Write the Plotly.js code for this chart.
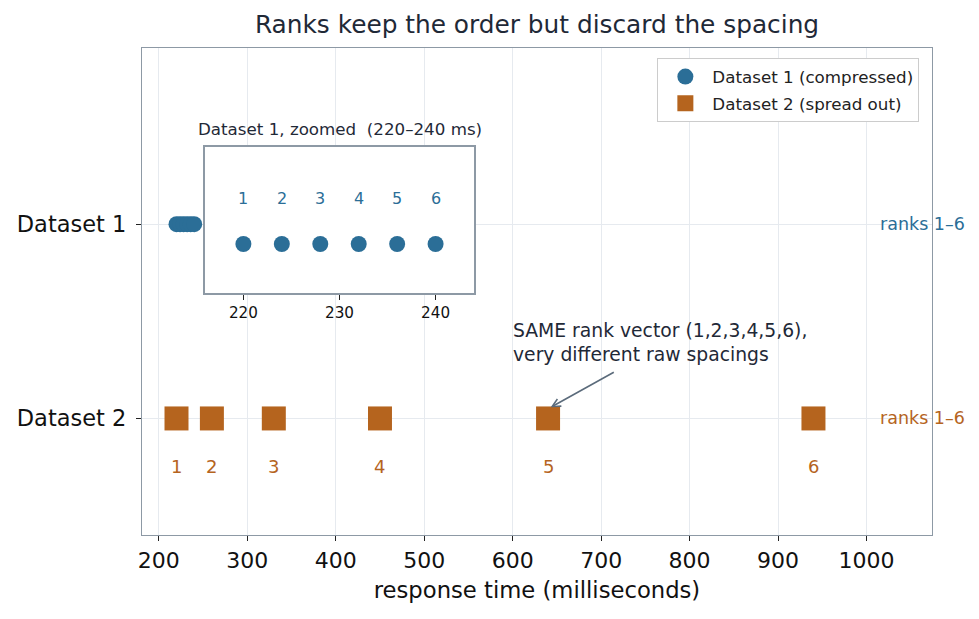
<!DOCTYPE html>
<html><head><meta charset="utf-8">
<script src="https://cdn.plot.ly/plotly-3.0.1.min.js"></script>
<style>html,body{margin:0;padding:0;background:#fff}</style>
</head><body>
<div id="chart" style="width:979px;height:619px"></div>
<script>
// ---- data ----
const dataset1 = [220, 224, 228, 232, 236, 240];   // ms, compressed
const dataset2 = [220, 260, 330, 450, 640, 940];   // ms, spread out
const ranks = [1, 2, 3, 4, 5, 6];
const rowPos = [0, 1];
const rowLabels = ['Dataset 2', 'Dataset 1'];
const xTicks = [200, 300, 400, 500, 600, 700, 800, 900, 1000];
const insetTicks = [220, 230, 240];
const seriesNames = ['Dataset 1 (compressed)', 'Dataset 2 (spread out)'];
const rankText = 'ranks 1–6';

// ---- styles ----
const BLUE = '#2b6e97';
const ORANGE = '#b5641e';
const FRAME = '#8d99a5';
const GRID = '#e6eaef';
const DARK = '#1f2937';
const FONT = 'DejaVu Sans, sans-serif';

const y1 = dataset1.map(() => rowPos[1]);
const y2 = dataset2.map(() => rowPos[0]);

const traces = [
  {x: dataset1, y: y1, type: 'scatter', mode: 'markers', name: seriesNames[0],
   marker: {color: BLUE, size: 16, symbol: 'circle'}, xaxis: 'x', yaxis: 'y', legendgroup: 'a', cliponaxis: false},
  {x: dataset2, y: y2, type: 'scatter', mode: 'markers', name: seriesNames[1],
   marker: {color: ORANGE, size: 24, symbol: 'square'}, xaxis: 'x', yaxis: 'y', legendgroup: 'b'},
  {x: dataset1, y: dataset1.map(() => 0), type: 'scatter', mode: 'markers', showlegend: false,
   marker: {color: BLUE, size: 16, symbol: 'circle'}, xaxis: 'x2', yaxis: 'y2', hoverinfo: 'skip'}
];

const annotations = [];
dataset2.forEach((v, i) => annotations.push({
  x: v, y: rowPos[0], xref: 'x', yref: 'y', yshift: -48, showarrow: false,
  text: String(ranks[i]), font: {family: FONT, size: 18, color: ORANGE}
}));
dataset1.forEach((v, i) => annotations.push({
  x: v, y: 0, xref: 'x2', yref: 'y2', yshift: 46, showarrow: false,
  text: String(ranks[i]), font: {family: FONT, size: 16, color: BLUE}
}));
annotations.push({x: 1013, y: rowPos[1], xref: 'x', yref: 'y', xanchor: 'left', showarrow: false,
  text: rankText, font: {family: FONT, size: 17.5, color: BLUE}});
annotations.push({x: 1013, y: rowPos[0], xref: 'x', yref: 'y', xanchor: 'left', showarrow: false,
  text: rankText, font: {family: FONT, size: 17.5, color: ORANGE}});
annotations.push({x: 0.5, y: 1, xref: 'x2 domain', yref: 'y2 domain', yanchor: 'bottom', yshift: 6,
  showarrow: false, text: 'Dataset 1, zoomed \u00a0(220–240 ms)', font: {family: FONT, size: 16.7, color: DARK}});
annotations.push({x: 598.5, y: 0.39, xref: 'x', yref: 'y', xanchor: 'left', align: 'left', showarrow: false,
  text: 'SAME rank vector (1,2,3,4,5,6),<br>very different raw spacings', font: {family: FONT, size: 18.75, color: DARK}});
annotations.push({x: 643, y: 0.057, ax: 716, ay: 0.242, xref: 'x', yref: 'y', axref: 'x', ayref: 'y',
  text: '', showarrow: true, arrowhead: 5, arrowsize: 1, arrowwidth: 1.6, arrowcolor: '#5b6b7b'});

const layout = {
  width: 979, height: 619,
  margin: {l: 142, r: 47, t: 48, b: 84},
  paper_bgcolor: '#ffffff', plot_bgcolor: '#ffffff',
  font: {family: FONT, color: DARK},
  title: {text: 'Ranks keep the order but discard the spacing', x: 0.5, xref: 'paper',
          y: 1 - 24 / 619, yref: 'container', yanchor: 'middle', font: {family: FONT, size: 24.8, color: DARK}},
  showlegend: true,
  legend: {x: 0.984, xanchor: 'right', y: 0.979, yanchor: 'top', bgcolor: '#ffffff',
           bordercolor: '#cccccc', borderwidth: 1, font: {family: FONT, size: 16.7, color: '#222222'},
           traceorder: 'grouped', tracegroupgap: 2, itemwidth: 44},
  xaxis: {range: [181, 1074], tickvals: xTicks, ticks: 'outside', ticklen: 5, tickwidth: 1.3, tickcolor: '#222',
          showgrid: true, gridcolor: GRID, gridwidth: 1.3, zeroline: false,
          showline: true, mirror: true, linecolor: FRAME, linewidth: 1.3,
          tickfont: {family: FONT, size: 22, color: '#111'},
          title: {text: 'response time (milliseconds)', font: {family: FONT, size: 22.7, color: '#111'}, standoff: 10}},
  yaxis: {range: [-0.6, 1.907], tickvals: rowPos, ticktext: rowLabels, ticks: 'outside', ticklen: 5, tickwidth: 1.3, tickcolor: '#222',
          showgrid: true, gridcolor: GRID, gridwidth: 1.3, zeroline: false,
          showline: true, mirror: true, linecolor: FRAME, linewidth: 1.3, ticklabelstandoff: 5,
          tickfont: {family: FONT, size: 22.5, color: '#111'}},
  xaxis2: {domain: [0.0797, 0.4203], anchor: 'y2', range: [216, 244], tickvals: insetTicks,
           ticks: 'outside', ticklen: 5, tickcolor: '#222', showgrid: false, zeroline: false,
           showline: true, mirror: true, linecolor: FRAME, linewidth: 1.6,
           tickfont: {family: FONT, size: 15.2, color: '#111'}},
  yaxis2: {domain: [0.4969, 0.7967], anchor: 'x2', range: [-1.065, 2.109], showticklabels: false, ticks: '',
           showgrid: false, zeroline: false, showline: true, mirror: true, linecolor: FRAME, linewidth: 1.6},
  shapes: [{type: 'rect', xref: 'x2 domain', yref: 'y2 domain', x0: 0, x1: 1, y0: 0, y1: 1,
            fillcolor: '#ffffff', line: {width: 0}, layer: 'below'}],
  annotations: annotations
};

Plotly.newPlot('chart', traces, layout, {displayModeBar: false, responsive: false});
</script>
</body></html>
